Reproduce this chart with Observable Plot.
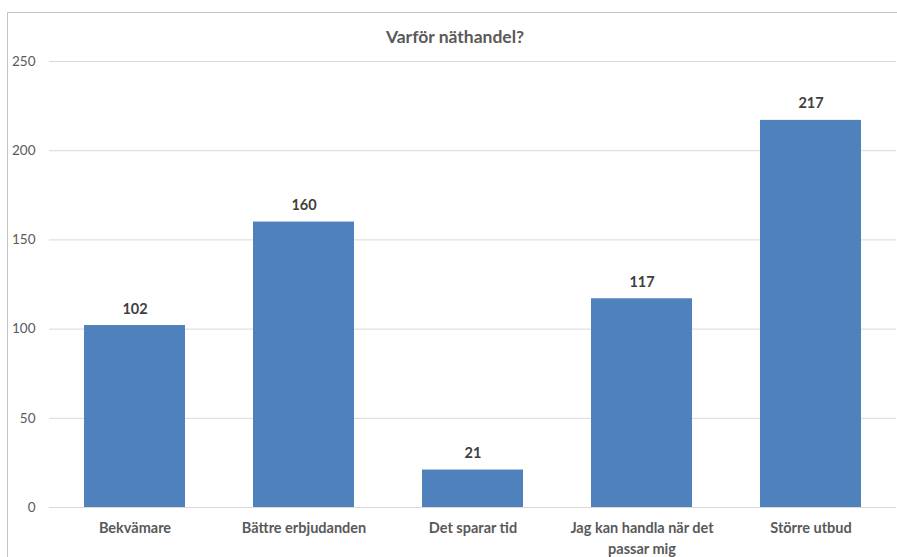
<!DOCTYPE html>
<html>
<head>
<meta charset="utf-8">
<script src="https://cdn.jsdelivr.net/npm/d3@7"></script>
<script src="https://cdn.jsdelivr.net/npm/@observablehq/plot@0.6"></script>
<style>
  html, body { margin: 0; padding: 0; background: #fff; overflow: hidden; }
  #wrap { position: relative; width: 897px; height: 557px; overflow: hidden; font-family: Lato, "Open Sans", sans-serif; }
  #frame { position: absolute; left: 7px; top: 12px; width: 1000px; height: 1000px; border: 1.5px solid #c4c4c4; box-sizing: border-box; }
  #title { position: absolute; left: 0; width: 910px; top: 26px; text-align: center; font-size: 17.5px; font-weight: 700; color: #595959; }
  #chart { position: absolute; left: 0; top: 0; }
</style>
</head>
<body>
<div id="wrap">
  <div id="frame"></div>
  <div id="chart"></div>
  <div id="title">Varför näthandel?</div>
</div>
<script>
const categories = ["Bekvämare", "Bättre erbjudanden", "Det sparar tid", "Jag kan handla när det passar mig", "Större utbud"];
const tickLabels = ["Bekvämare", "Bättre erbjudanden", "Det sparar tid", "Jag kan handla när det\npassar mig", "Större utbud"];
const values = [102, 160, 21, 117, 217];
const yTicks = [0, 50, 100, 150, 200, 250];

const data = categories.map((c, i) => ({category: c, value: values[i]}));
const labelOf = new Map(categories.map((c, i) => [c, tickLabels[i]]));

const chart = Plot.plot({
  width: 897,
  height: 557,
  marginTop: 61,
  marginBottom: 50,
  marginLeft: 49,
  marginRight: 1,
  style: {fontFamily: "Lato, 'Open Sans', sans-serif", background: "transparent"},
  x: {domain: categories, paddingInner: 0.4, paddingOuter: 0.2, label: null},
  y: {domain: [0, 250], label: null},
  marks: [
    Plot.ruleY(yTicks, {stroke: "#d9d9d9", strokeWidth: 1}),
    Plot.barY(data, {x: "category", y: "value", fill: "#4f81bd"}),
    Plot.text(data, {x: "category", y: "value", text: d => String(d.value), lineAnchor: "bottom", dy: -12, fontSize: 14.5, fontWeight: "bold", fill: "#404040"}),
    Plot.axisY({ticks: yTicks, tickSize: 0, tickPadding: 14, fontSize: 13.5, color: "#595959", label: null}),
    Plot.axisX({tickSize: 0, tickPadding: 11, fontSize: 14.5, fontWeight: "bold", color: "#595959", tickFormat: d => labelOf.get(d), lineHeight: 1.45, label: null})
  ]
});
document.getElementById("chart").appendChild(chart);
</script>
</body>
</html>
